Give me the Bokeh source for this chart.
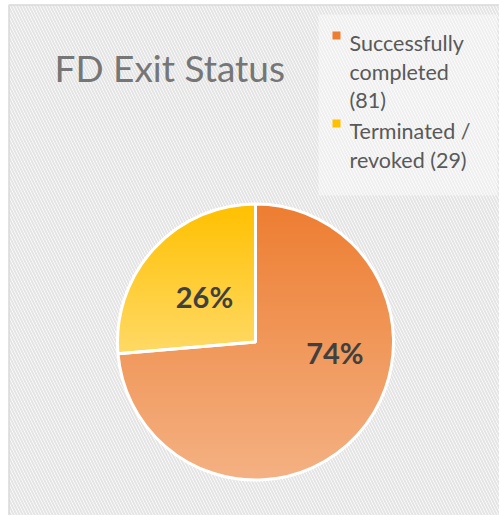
import numpy as np
from bokeh.plotting import figure
from bokeh.models import Range1d
from bokeh.core.properties import value
from bokeh.embed import file_html
from bokeh.resources import INLINE

# ---------------- data ----------------
title_text = "FD Exit Status"
categories = ["Successfully completed (81)", "Terminated / revoked (29)"]
legend_lines = [["Successfully", "completed", "(81)"], ["Terminated /", "revoked (29)"]]
counts = [81, 29]
top_colors = ["#ED7D31", "#FFC000"]
bottom_colors = ["#F4B183", "#FFD966"]

# ---------------- layout (pixel-like data space, y up) ----------------
W, H = 499, 515


def Y(img_y):
    return H - img_y


CX, CY, R = 255.0, Y(341.5), 138.0
label_polar = [(0.58, -7.6), (0.495, 138.3)]  # (radius fraction, angle deg) for labels

p = figure(width=W, height=H, x_range=Range1d(0, W), y_range=Range1d(0, H),
           output_backend="svg", toolbar_location=None, min_border=0,
           x_axis_type=None, y_axis_type=None)
p.grid.visible = False
p.outline_line_color = None
p.background_fill_color = "white"
p.border_fill_color = "white"

# background hatch + frame
p.quad(left=8.5, right=540, top=Y(4.5), bottom=-30, fill_color="white",
       hatch_pattern="left_diagonal_line", hatch_color="#E4E4E4",
       hatch_scale=6, hatch_weight=2, line_color="#D9D9D9", line_width=1.5)

# legend box (lightened)
p.quad(left=318, right=497, top=Y(14), bottom=Y(195), fill_color="white",
       fill_alpha=0.4, line_color=None)

# ---------------- pie ----------------
total = float(sum(counts))
fracs = [c / total for c in counts]
starts, ends = [], []
a = 90.0
for f in fracs:
    starts.append(np.deg2rad(a))
    a -= f * 360.0
    ends.append(np.deg2rad(a))

# base wedges (solid)
mid_cols = ["#F09A5A", "#FFCC40"]
p.wedge(x=[CX] * len(counts), y=[CY] * len(counts), radius=R,
        start_angle=ends, end_angle=starts, direction="anticlock",
        fill_color=mid_cols, line_color=None)


def hex2rgb(h):
    h = h.lstrip("#")
    return np.array([int(h[i:i + 2], 16) for i in (0, 2, 4)], dtype=float)


def rgb2hex(c):
    return "#%02x%02x%02x" % tuple(int(round(v)) for v in c)


def clip(poly, yv, keep_above):
    out = []
    n = len(poly)
    for i in range(n):
        cur, prev = poly[i], poly[i - 1]
        cin = cur[1] >= yv if keep_above else cur[1] <= yv
        pin = prev[1] >= yv if keep_above else prev[1] <= yv
        if cin:
            if not pin:
                t = (yv - prev[1]) / (cur[1] - prev[1])
                out.append((prev[0] + t * (cur[0] - prev[0]), yv))
            out.append(cur)
        elif pin:
            t = (yv - prev[1]) / (cur[1] - prev[1])
            out.append((prev[0] + t * (cur[0] - prev[0]), yv))
    return out


xs_all, ys_all, cols_all = [], [], []
for i in range(len(counts)):
    angs = np.linspace(starts[i], ends[i], 240)
    poly = [(CX, CY)] + [(CX + R * np.cos(t), CY + R * np.sin(t)) for t in angs]
    ys_ = [q[1] for q in poly]
    ytop, ybot = max(ys_), min(ys_)
    c0, c1 = hex2rgb(top_colors[i]), hex2rgb(bottom_colors[i])
    step = 3.0
    y1 = ytop
    while y1 > ybot:
        y0 = max(y1 - step, ybot)
        piece = clip(clip(poly, y0, True), y1, False)
        if len(piece) >= 3:
            t = (ytop - (y0 + y1) / 2) / (ytop - ybot)
            xs_all.append([q[0] for q in piece])
            ys_all.append([q[1] for q in piece])
            cols_all.append(rgb2hex(c0 + (c1 - c0) * t))
        y1 = y0

p.patches(xs=xs_all, ys=ys_all, fill_color=cols_all, line_color=cols_all, line_width=1)

# white separators / outline
p.wedge(x=[CX] * len(counts), y=[CY] * len(counts), radius=R,
        start_angle=ends, end_angle=starts, direction="anticlock",
        fill_alpha=0, line_color="white", line_width=3)

# percentage labels
pct = ["%d%%" % round(f * 100) for f in fracs]
lx = [CX + fr * R * np.cos(np.deg2rad(ang)) for fr, ang in label_polar]
ly = [CY + fr * R * np.sin(np.deg2rad(ang)) for fr, ang in label_polar]
p.text(x=lx, y=ly, text=pct, text_align="center", text_baseline="middle",
       text_font=value("Lato"), text_font_style="bold", text_font_size="29px",
       text_color="#404040")

# title
p.text(x=[54], y=[Y(67)], text=[title_text], text_align="left", text_baseline="alphabetic",
       text_font=value("Lato"), text_font_size="37px", text_color="#767676")

# legend
marker_y = [Y(35), Y(123)]
p.scatter(x=[336] * len(counts), y=marker_y, marker="square", size=8,
          fill_color=top_colors, line_color=None)
base_lines = [[42.5, 71, 99.5], [130.5, 159]]
tx, ty, tt = [], [], []
for i, lines in enumerate(legend_lines):
    for j, s in enumerate(lines):
        tx.append(349)
        ty.append(Y(base_lines[i][j]))
        tt.append(s)
p.text(x=tx, y=ty, text=tt, text_align="left", text_baseline="alphabetic",
       text_font=value("Lato"), text_font_size="21.5px", text_color="#595959")

open("out.html", "w").write(file_html(p, INLINE))
